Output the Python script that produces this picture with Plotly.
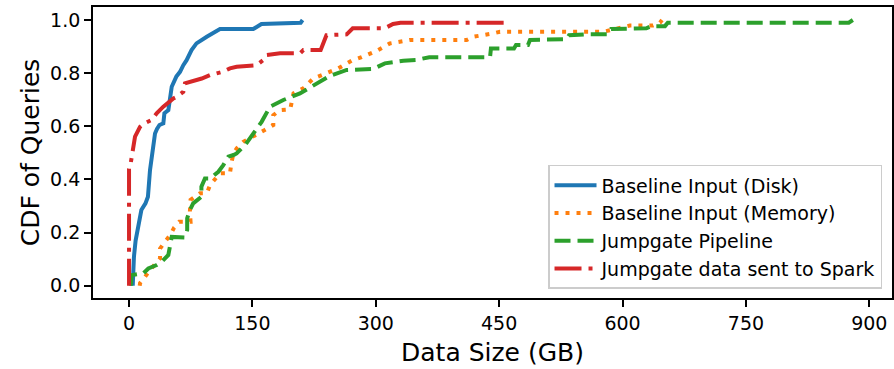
import plotly.graph_objects as go

# ---- data (x = data size in GB, y = CDF) ----
disk_x = [4.5, 5, 6, 8, 11.8, 13.4, 15, 20, 23, 25.5, 28, 29, 31.6, 34, 37, 41.7, 43, 47.8, 51.9, 57.5, 62, 66, 70, 76, 82, 94.5, 106.6, 110.6, 151, 161, 208.7, 211]
disk_y = [0.0, 0.05, 0.11, 0.17, 0.235, 0.27, 0.285, 0.31, 0.335, 0.435, 0.49, 0.535, 0.573, 0.59, 0.605, 0.611, 0.649, 0.661, 0.749, 0.787, 0.805, 0.83, 0.849, 0.887, 0.912, 0.937, 0.956, 0.966, 0.966, 0.985, 0.99, 1.0]

mem_x = [13, 13.4, 19.5, 25.5, 37.7, 37.7, 43.8, 49.9, 54.7, 61, 74.8, 74, 74.8, 86.3, 94.5, 98.5, 110.6, 122.7, 124.7, 127, 131, 139, 165, 175.4, 175.4, 183.6, 196, 200, 212, 224, 254.5, 270.7, 282.8, 301, 317, 341.6, 410.5, 418.6, 443, 451, 576.6, 609, 637, 645.5, 648]
mem_y = [0.0, 0.01, 0.034, 0.059, 0.103, 0.14, 0.166, 0.19, 0.218, 0.241, 0.241, 0.279, 0.323, 0.348, 0.348, 0.379, 0.423, 0.423, 0.466, 0.498, 0.517, 0.542, 0.586, 0.605, 0.642, 0.661, 0.664, 0.724, 0.743, 0.78, 0.818, 0.847, 0.86, 0.884, 0.912, 0.925, 0.925, 0.937, 0.95, 0.956, 0.956, 0.979, 0.979, 0.99, 1.0]

pipe_x = [2, 3.2, 17.4, 23.5, 33.6, 39.7, 47.8, 49.9, 51.9, 68, 70.7, 70.7, 74, 78, 88, 88, 92.3, 98.5, 108.6, 114.6, 120.7, 127, 130.8, 141, 151, 161.2, 171.4, 187.6, 207.8, 224, 244.4, 264.6, 297, 311, 333.5, 349.6, 365, 438.9, 440, 468, 470.5, 485, 487.5, 532, 535, 554, 582, 586, 603, 608, 629, 635, 651.6, 655, 875, 880]
pipe_y = [0.0, 0.04, 0.047, 0.065, 0.078, 0.09, 0.116, 0.153, 0.184, 0.182, 0.21, 0.254, 0.285, 0.31, 0.335, 0.373, 0.404, 0.404, 0.429, 0.454, 0.486, 0.492, 0.498, 0.529, 0.574, 0.617, 0.674, 0.699, 0.724, 0.755, 0.79, 0.812, 0.816, 0.837, 0.847, 0.85, 0.86, 0.86, 0.893, 0.893, 0.906, 0.906, 0.925, 0.928, 0.943, 0.946, 0.946, 0.966, 0.966, 0.969, 0.969, 0.977, 0.977, 0.99, 0.99, 1.0]

spark_x = [0, 0, 2, 4, 7.3, 13.4, 18, 27.6, 33.6, 41.7, 45.8, 53.9, 58, 66, 68, 82, 88.4, 98.5, 114.6, 122.7, 130.8, 155, 163, 167, 183.6, 208, 212, 233, 236, 240, 264.6, 268, 272, 311, 321, 330, 457, 459]
spark_y = [0.0, 0.44, 0.46, 0.504, 0.561, 0.598, 0.61, 0.624, 0.649, 0.674, 0.686, 0.705, 0.711, 0.73, 0.762, 0.774, 0.78, 0.793, 0.806, 0.818, 0.824, 0.83, 0.849, 0.868, 0.875, 0.875, 0.887, 0.887, 0.912, 0.943, 0.946, 0.956, 0.969, 0.969, 0.985, 0.99, 0.99, 1.0]

names = ["Baseline Input (Disk)", "Baseline Input (Memory)", "Jumpgate Pipeline", "Jumpgate data sent to Spark"]
x_ticks = [0, 150, 300, 450, 600, 750, 900]
y_ticks = [0.0, 0.2, 0.4, 0.6, 0.8, 1.0]

FONT = "DejaVu Sans"
LW = 4

fig = go.Figure()
fig.add_trace(go.Scatter(x=disk_x, y=disk_y, mode="lines", name=names[0],
                         line=dict(color="#1f77b4", width=LW)))
fig.add_trace(go.Scatter(x=mem_x, y=mem_y, mode="lines", name=names[1],
                         line=dict(color="#ff7f0e", width=LW, dash="4px,7px")))
fig.add_trace(go.Scatter(x=pipe_x, y=pipe_y, mode="lines", name=names[2],
                         line=dict(color="#2ca02c", width=LW, dash="16px,7px")))
fig.add_trace(go.Scatter(x=spark_x, y=spark_y, mode="lines", name=names[3],
                         line=dict(color="#d62728", width=LW, dash="27px,7px,4px,7px")))

axis_common = dict(showline=True, mirror=True, linecolor="black", linewidth=1.8,
                   ticks="outside", ticklen=7, tickwidth=1.5, tickcolor="black",
                   showgrid=False, zeroline=False, automargin=False,
                   tickfont=dict(family=FONT, size=19, color="black"))

fig.update_xaxes(range=[-43.8, 927.6], tickvals=x_ticks,
                 title=dict(text="Data Size (GB)", font=dict(family=FONT, size=25, color="black"), standoff=11),
                 **axis_common)
fig.update_yaxes(range=[-0.046, 1.049], tickvals=y_ticks, tickformat=".1f",
                 title=dict(text="CDF of Queries", font=dict(family=FONT, size=25, color="black"), standoff=3),
                 **axis_common)

fig.update_layout(
    width=894, height=369,
    margin=dict(l=93, r=2, t=7, b=71),
    plot_bgcolor="white", paper_bgcolor="white",
    font=dict(family=FONT, color="black"),
    legend=dict(x=0.9875, y=0.031, xanchor="right", yanchor="bottom",
                bgcolor="rgba(255,255,255,0.8)", bordercolor="#cccccc", borderwidth=1.5,
                itemwidth=42,
                font=dict(family=FONT, size=19, color="black"), tracegroupgap=0),
)

fig.write_html("out.html", config={"displayModeBar": False},
               post_script="document.body.style.margin='0px';")
